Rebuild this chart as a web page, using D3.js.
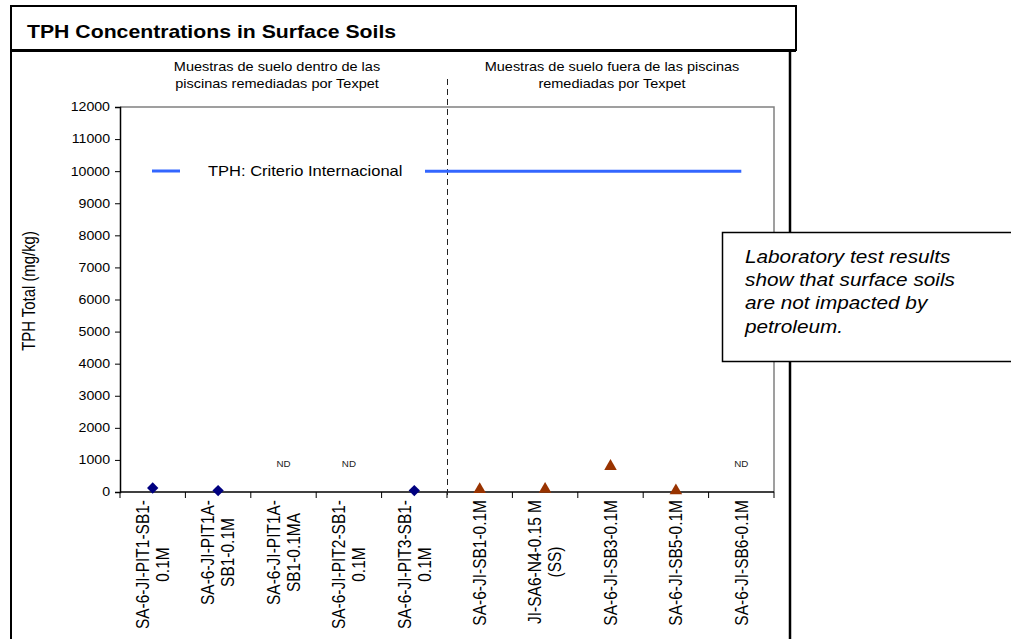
<!DOCTYPE html>
<html><head><meta charset="utf-8">
<script src="https://cdn.jsdelivr.net/npm/d3@7"></script>
<style>body{margin:0;background:#fff}svg{display:block}text{font-family:Arial,"Liberation Sans",sans-serif}</style>
</head><body>
<svg id="c" width="1011" height="639"></svg>
<script>
// ---- data ----
const categories = [
  ["SA-6-JI-PIT1-SB1-", "0.1M"],
  ["SA-6-JI-PIT1A-", "SB1-0.1M"],
  ["SA-6-JI-PIT1A-", "SB1-0.1MA"],
  ["SA-6-JI-PIT2-SB1-", "0.1M"],
  ["SA-6-JI-PIT3-SB1-", "0.1M"],
  ["SA-6-JI-SB1-0.1M"],
  ["JI-SA6-N4-0.15 M", "(SS)"],
  ["SA-6-JI-SB3-0.1M"],
  ["SA-6-JI-SB5-0.1M"],
  ["SA-6-JI-SB6-0.1M"]
];
const insideValues  = [125, 45, null, null, 45, null, null, null, null, null];
const outsideValues = [null, null, null, null, null, 50, 55, 770, 10, null];
const criterionValues = [10000, 10000, 10000, 10000, 10000, 10000, 10000, 10000, 10000, 10000];
const ndFlags = [false, false, true, true, false, false, false, false, false, true];
const yTicks = [0, 1000, 2000, 3000, 4000, 5000, 6000, 7000, 8000, 9000, 10000, 11000, 12000];
const titleText = "TPH Concentrations in Surface Soils";
const yLabel = "TPH Total (mg/kg)";
const legendLabel = "TPH: Criterio Internacional";
const headerLeft = ["Muestras de suelo dentro de las", "piscinas remediadas por Texpet"];
const headerRight = ["Muestras de suelo fuera de las piscinas", "remediadas por Texpet"];
const noteLines = ["Laboratory test results", "show that surface soils", "are not impacted by", "petroleum."];

// ---- layout ----
const SX = 1.18;
const svg = d3.select("#c");
const keys = categories.map((c, i) => i);
const x = d3.scaleBand().domain(keys).range([120, 774]).paddingInner(0).paddingOuter(0);
const y = d3.scaleLinear().domain([0, 12000]).range([492, 107]);
const cx = i => x(i) + x.bandwidth() / 2;

function sText(parent, px, py, str, size, anchor, extra) {
  const t = parent.append("text")
    .attr("transform", `translate(${px},${py}) scale(${SX},1)`)
    .attr("font-size", size).attr("text-anchor", anchor || "start")
    .attr("fill", "#000").text(str);
  if (extra) extra(t);
  return t;
}

// frames
svg.append("rect").attr("x", 11).attr("y", 6).attr("width", 785).attr("height", 44)
  .attr("fill", "#fff").attr("stroke", "#000").attr("stroke-width", 2);
svg.append("line").attr("x1", 11).attr("x2", 796).attr("y1", 50.5).attr("y2", 50.5).attr("stroke", "#000").attr("stroke-width", 3);
svg.append("line").attr("x1", 11).attr("x2", 11).attr("y1", 50).attr("y2", 645).attr("stroke", "#000").attr("stroke-width", 2);
svg.append("line").attr("x1", 790).attr("x2", 790).attr("y1", 50).attr("y2", 645).attr("stroke", "#000").attr("stroke-width", 2.5);
sText(svg, 27, 38, titleText, 18, "start", t => t.attr("font-weight", "bold"));

// headers
headerLeft.forEach((s, i) => sText(svg, 277, 71 + i * 17, s, 12.3, "middle"));
headerRight.forEach((s, i) => sText(svg, 612, 71 + i * 17, s, 12.3, "middle"));

// plot border (top/right gray)
svg.append("path").attr("d", `M120,${y(12000)}H774V${y(0)}`).attr("fill", "none").attr("stroke", "#808080").attr("stroke-width", 1.5);

// y axis
const yAxis = svg.append("g").attr("transform", "translate(120,0)")
  .call(d3.axisLeft(y).tickValues(yTicks).tickFormat(d3.format("d")).tickSize(5).tickPadding(5));
yAxis.select(".domain").attr("stroke", "#000").attr("stroke-width", 1.5);
yAxis.selectAll(".tick line").attr("stroke", "#000");
yAxis.selectAll(".tick text").attr("font-size", 12).attr("font-family", "Arial, Liberation Sans").attr("fill", "#000")
  .attr("x", -10 / SX).attr("transform", `scale(${SX},1)`);

// y label
svg.append("text").attr("transform", `translate(35,291) scale(${SX},1) rotate(-90)`)
  .attr("text-anchor", "middle").attr("font-size", 14.9).text(yLabel);

// x axis
const xAxisG = svg.append("g").attr("transform", `translate(0,${y(0)})`);
xAxisG.append("line").attr("x1", 120).attr("x2", 774).attr("stroke", "#000").attr("stroke-width", 1.5);
xAxisG.selectAll(".xt").data(keys.concat([keys.length])).enter().append("line")
  .attr("x1", d => d < keys.length ? x(d) : x.range()[1]).attr("x2", d => d < keys.length ? x(d) : x.range()[1])
  .attr("y1", 0).attr("y2", 6).attr("stroke", "#000");

// x labels
const xl = svg.selectAll(".xl").data(categories).enter().append("g")
  .attr("transform", (d, i) => `translate(${cx(i)},500) scale(${SX},1) rotate(-90)`);
xl.each(function (lines) {
  const g = d3.select(this);
  const ts = lines.map(s => g.append("text").attr("font-size", 15.5).attr("text-anchor", "middle").text(s));
  const maxLen = d3.max(ts, t => t.node().getComputedTextLength());
  const n = lines.length;
  ts.forEach((t, j) => {
    const off = (j - (n - 1) / 2) * 17;
    t.attr("x", -maxLen / 2).attr("y", off + 5.4);
  });
});

// section divider
const divX = Math.round(x(5)) + 0.5;
svg.append("line").attr("x1", divX).attr("x2", divX).attr("y1", 79).attr("y2", y(0) + 7)
  .attr("stroke", "#222").attr("stroke-width", 1).attr("stroke-dasharray", "6,4");

// criterion line
const line = d3.line().x((d, i) => cx(i)).y(d => y(d));
svg.append("path").datum(criterionValues).attr("d", line).attr("fill", "none")
  .attr("stroke", "#3366FF").attr("stroke-width", 3);

// legend
svg.append("rect").attr("x", 140).attr("y", 158).attr("width", 285).attr("height", 27).attr("fill", "#fff");
svg.append("line").attr("x1", 152).attr("x2", 180).attr("y1", 171).attr("y2", 171).attr("stroke", "#3366FF").attr("stroke-width", 3);
sText(svg, 208, 176, legendLabel, 14, "start");

// inside markers (diamonds)
svg.selectAll(".dia").data(insideValues.map((v, i) => ({ v, i })).filter(d => d.v != null)).enter()
  .append("path").attr("d", d3.symbol(d3.symbolSquare, 64)())
  .attr("transform", d => `translate(${cx(d.i)},${y(d.v)}) rotate(45)`).attr("fill", "#000080");
// outside markers (triangles)
svg.selectAll(".tri").data(outsideValues.map((v, i) => ({ v, i })).filter(d => d.v != null)).enter()
  .append("path").attr("d", d3.symbol(d3.symbolTriangle, 68)())
  .attr("transform", d => `translate(${cx(d.i)},${y(d.v) - 1})`).attr("fill", "#993300");

// ND labels
ndFlags.forEach((f, i) => { if (f) sText(svg, cx(i), y(0) - 25, "ND", 8.3, "middle", t => t.attr("fill", "#222")); });

// note box
svg.append("rect").attr("x", 722.5).attr("y", 232.5).attr("width", 300).attr("height", 129)
  .attr("fill", "#fff").attr("stroke", "#000").attr("stroke-width", 1.5);
noteLines.forEach((s, i) => sText(svg, 745, 263 + i * 23.2, s, 17.6, "start", t => t.attr("font-style", "italic")));
</script>
</body></html>
